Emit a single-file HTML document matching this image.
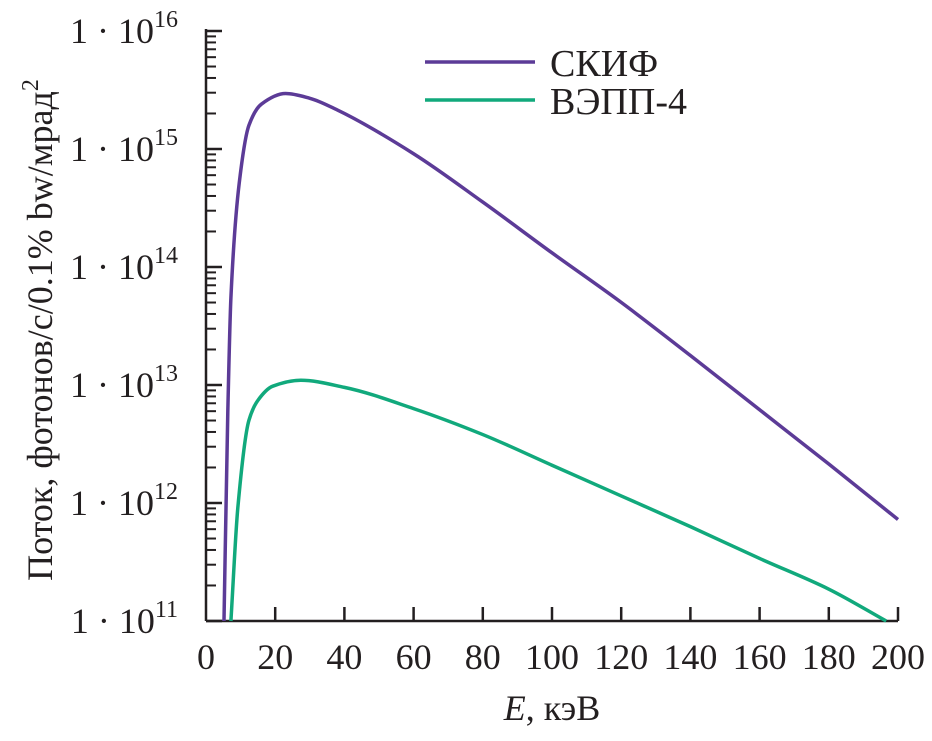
<!DOCTYPE html>
<html><head><meta charset="utf-8"><style>
body{margin:0;background:#fff}
svg text{font-family:"Liberation Serif",serif;fill:#231f20}
</style></head><body>
<svg width="932" height="736" xmlns="http://www.w3.org/2000/svg">
<g id="axes"></g>
<g id="series"></g>
<g>
<line x1="425" y1="62" x2="535" y2="62" stroke="#5c3b97" stroke-width="3.5"/>
<text x="550" y="76" font-size="38">СКИФ</text>
<line x1="425" y1="100" x2="535" y2="100" stroke="#11a97c" stroke-width="3.5"/>
<text x="550" y="114" font-size="38">ВЭПП-4</text>
</g>
<text x="552" y="720" font-size="36" text-anchor="middle"><tspan font-style="italic">E</tspan>, кэВ</text>
<text transform="translate(52,330) rotate(-90)" font-size="36" text-anchor="middle">Поток, фотонов/с/0.1% bw/мрад<tspan dy="-14" font-size="24">2</tspan></text>
</svg>
<script>
const xTicks=[0,20,40,60,80,100,120,140,160,180,200];
const yDecades=[11,12,13,14,15,16];
const skifE=[5.2,6.3,7.2,9.6,12.4,16,23,30,38,60,80,100,120,140,160,180,200];
const skifLog=[11,12.77,13.74,14.71,15.2,15.38,15.47,15.43,15.33,14.96,14.55,14.12,13.7,13.25,12.79,12.33,11.86];
const veppE=[7.2,9.2,12.4,15,19.3,27.4,40,60,80,100,120,140,160,180,196.6];
const veppLog=[11,11.96,12.7,12.87,12.99,13.04,12.98,12.8,12.58,12.32,12.06,11.8,11.53,11.27,11.0];
const X0=206,X1=898,Y16=31,Y11=621;
const sx=e=>X0+(e/200)*(X1-X0);
const sy=l=>Y11-(l-11)/5*(Y11-Y16);
const NS="http://www.w3.org/2000/svg";
const ax=document.getElementById('axes'),se=document.getElementById('series');
function mk(t,a,p){const e=document.createElementNS(NS,t);for(const k in a)e.setAttribute(k,a[k]);p.appendChild(e);return e;}
const yl=mk('line',{x1:X0,y1:Y16-2,x2:X0,y2:Y11,stroke:'#231f20','stroke-width':2.5},ax);


const xl=mk('line',{x1:X0,y1:Y11,x2:X1,y2:Y11,stroke:'#231f20','stroke-width':2.5},ax);


xTicks.forEach(v=>{
 if(v>0){const t=mk('line',{x1:sx(v),y1:Y11,x2:sx(v),y2:Y11-14,stroke:'#231f20','stroke-width':2.5},ax);
 
 }
 const tx=mk('text',{x:sx(v),y:Y11+48,'font-size':36,'text-anchor':'middle'},ax);tx.textContent=v;
 
 
});
yDecades.forEach(d=>{
 const t=mk('line',{x1:X0,y1:sy(d),x2:X0+16,y2:sy(d),stroke:'#231f20','stroke-width':2.5},ax);
 
 
 if(d<16)for(let m=2;m<10;m++){const yy=sy(d+Math.log10(m));const mt=mk('line',{x1:X0,y1:yy,x2:X0+10,y2:yy,stroke:'#231f20','stroke-width':2},ax);
  
  }
 const tx=mk('text',{x:178,y:sy(d)+12,'font-size':36,'text-anchor':'end'},ax);
 tx.innerHTML='1 · 10<tspan dy="-16" font-size="24">'+d+'</tspan>';
 
 
});
// monotone cubic (Fritsch–Carlson) in pixel space
function path(E,L){
 const x=E.map(sx),y=L.map(sy),n=x.length;
 const dx=[],s=[];
 for(let i=0;i<n-1;i++){dx.push(x[i+1]-x[i]);s.push((y[i+1]-y[i])/dx[i]);}
 const m=new Array(n);
 m[0]=s[0];m[n-1]=s[n-2];
 for(let i=1;i<n-1;i++){
  if(s[i-1]*s[i]<=0)m[i]=0;
  else{const w1=2*dx[i]+dx[i-1],w2=dx[i]+2*dx[i-1];m[i]=(w1+w2)/(w1/s[i-1]+w2/s[i]);}
 }
 let d='M'+x[0]+','+y[0];
 for(let i=0;i<n-1;i++){
  const h=dx[i]/3;
  d+=' C'+(x[i]+h)+','+(y[i]+m[i]*h)+' '+(x[i+1]-h)+','+(y[i+1]-m[i+1]*h)+' '+x[i+1]+','+y[i+1];
 }
 return d;
}
const s1=mk('path',{d:path(skifE,skifLog),fill:'none',stroke:'#5c3b97','stroke-width':3.5},se);


const s2=mk('path',{d:path(veppE,veppLog),fill:'none',stroke:'#11a97c','stroke-width':3.5},se);


</script>
</body></html>
